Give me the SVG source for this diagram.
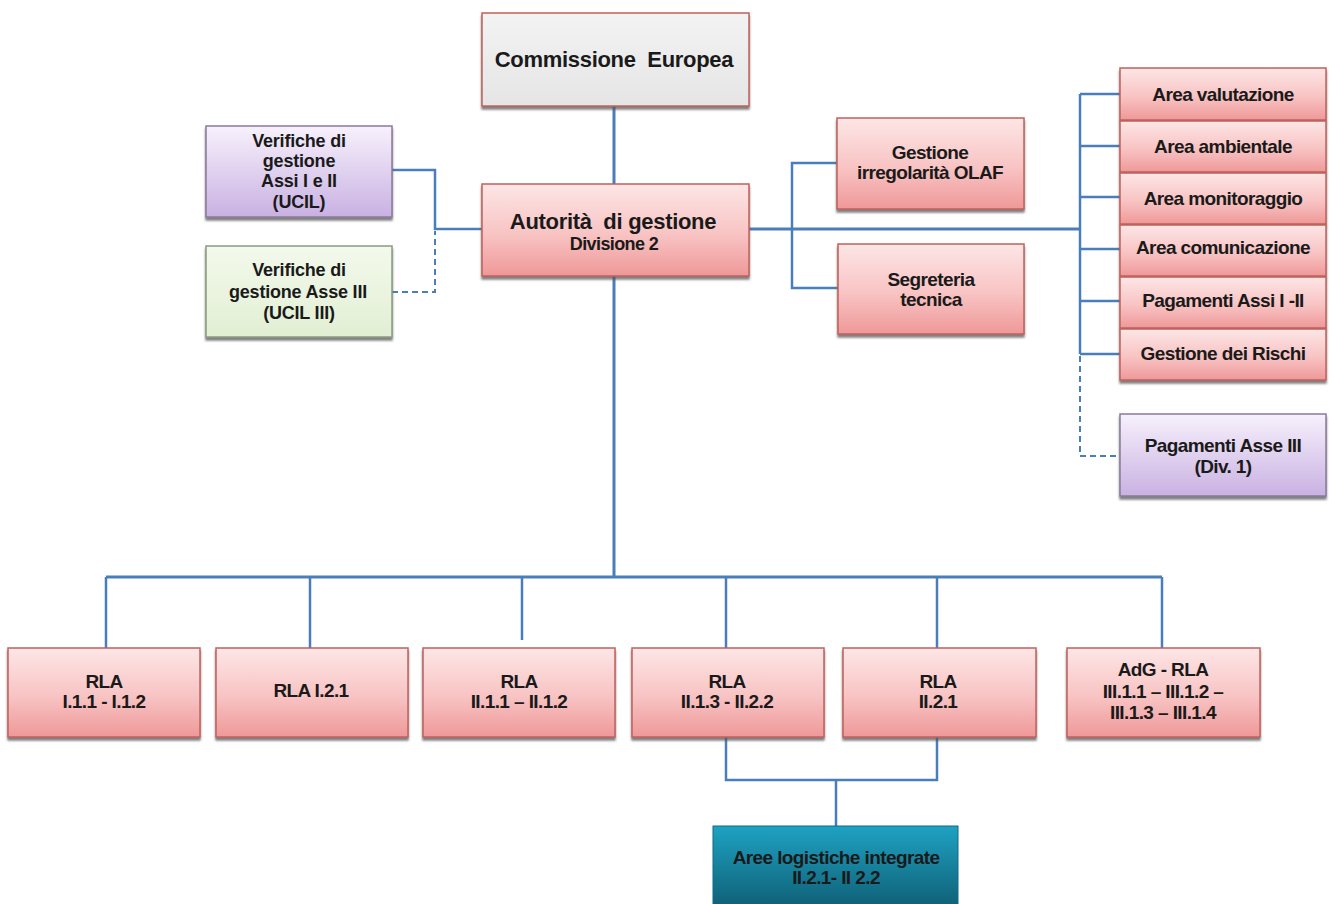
<svg xmlns="http://www.w3.org/2000/svg" width="1329" height="904" viewBox="0 0 1329 904">
<defs>
<linearGradient id="gPink" x1="0" y1="0" x2="0" y2="1"><stop offset="0" stop-color="#fde6e6"/><stop offset="0.55" stop-color="#f8c3c3"/><stop offset="1" stop-color="#ef9898"/></linearGradient>
<linearGradient id="gPurple" x1="0" y1="0" x2="0" y2="1"><stop offset="0" stop-color="#f7f1fc"/><stop offset="1" stop-color="#c9b1e2"/></linearGradient>
<linearGradient id="gGreen" x1="0" y1="0" x2="0" y2="1"><stop offset="0" stop-color="#f3f9ec"/><stop offset="1" stop-color="#e2efd3"/></linearGradient>
<linearGradient id="gGray" x1="0" y1="0" x2="0" y2="1"><stop offset="0" stop-color="#f3f3f3"/><stop offset="1" stop-color="#e5e5e5"/></linearGradient>
<linearGradient id="gTeal" x1="0" y1="0" x2="0" y2="1"><stop offset="0" stop-color="#1ea2c2"/><stop offset="1" stop-color="#0f5f76"/></linearGradient>
<filter id="sh" x="-5%" y="-5%" width="110%" height="120%"><feDropShadow dx="0" dy="3" stdDeviation="1.2" flood-color="#555" flood-opacity="0.75"/></filter>
</defs>
<style>
.box{stroke:#c0605c;stroke-width:1.5;filter:url(#sh)}
.pink{fill:url(#gPink)}
.purple{fill:url(#gPurple);stroke:#8a7a9a}
.green{fill:url(#gGreen);stroke:#8a9a80}
.gray{fill:url(#gGray)}
.teal{fill:url(#gTeal);stroke:#0e6b86}
text{font-family:"Liberation Sans",Arial,sans-serif;font-weight:bold;fill:#1a1a1a;text-anchor:middle;letter-spacing:-0.6px}
.t22{font-size:22px;letter-spacing:-0.3px}
.t18{font-size:18px}
.t19{font-size:19px}
.t20{font-size:18px;letter-spacing:-0.2px}
.conn{fill:none;stroke:#4a7ebb;stroke-width:2.5}
.thick{stroke-width:3}
.dash{stroke-dasharray:6 4;stroke-width:2}
</style>
<rect width="1329" height="904" fill="#ffffff"/>
<g id="connectors">
<path class="conn thick" d="M614 106 V184 M614 276 V577"/>
<path class="conn thick" d="M106 577 H1162"/>
<path class="conn" d="M106 577 V648 M310 577 V648 M522 577 V640 M726 577 V648 M937 577 V648 M1162 577 V648"/>
<path class="conn" d="M726 737 V780 H937 V737 M836 780 V826"/>
<path class="conn" d="M392 170 H435 V229 H482"/>
<path class="conn dash" d="M392 292 H435 V231"/>
<path class="conn thick" d="M749 229 H1080"/>
<path class="conn" d="M837 163 H792 V288 H838"/>
<path class="conn" d="M1080 94 V354 M1080 94 H1120 M1080 146 H1120 M1080 197 H1120 M1080 249 H1120 M1080 301 H1120 M1080 354 H1120"/>
<path class="conn dash" d="M1080 356 V456 H1120"/>
</g>
<g id="commissione"><rect class="box gray" x="482" y="13" width="267" height="93"/><text class="t22" x="614" y="67" xml:space="preserve">Commissione  Europea</text></g>
<g id="autorita"><rect class="box pink" x="482" y="184" width="267" height="92"/><text class="t22" x="613" y="229" xml:space="preserve">Autorità  di gestione</text><text class="t18" x="614" y="250">Divisione 2</text></g>
<g id="ucil"><rect class="box purple" x="206" y="126" width="186" height="91"/><text class="t20" x="299" y="147">Verifiche di</text><text class="t20" x="299" y="167">gestione</text><text class="t20" x="299" y="187">Assi I e II</text><text class="t20" x="299" y="208">(UCIL)</text></g>
<g id="ucil3"><rect class="box green" x="206" y="246" width="186" height="91"/><text class="t20" x="299" y="276">Verifiche di</text><text class="t20" x="298" y="298">gestione Asse III</text><text class="t20" x="299" y="319">(UCIL III)</text></g>
<g id="olaf"><rect class="box pink" x="837" y="118" width="187" height="91"/><text class="t19" x="930" y="159">Gestione</text><text class="t19" x="930" y="179">irregolarità OLAF</text></g>
<g id="segreteria"><rect class="box pink" x="838" y="244" width="186" height="90"/><text class="t19" x="931" y="286">Segreteria</text><text class="t19" x="931" y="306">tecnica</text></g>
<g id="area-valutazione"><rect class="box pink" x="1120" y="68" width="206" height="52"/><text class="t19" x="1223" y="101">Area valutazione</text></g>
<g id="area-ambientale"><rect class="box pink" x="1120" y="121" width="206" height="51"/><text class="t19" x="1223" y="153">Area ambientale</text></g>
<g id="area-monitoraggio"><rect class="box pink" x="1120" y="173" width="206" height="51"/><text class="t19" x="1223" y="205">Area monitoraggio</text></g>
<g id="area-comunicazione"><rect class="box pink" x="1120" y="225" width="206" height="51"/><text class="t19" x="1223" y="254">Area comunicazione</text></g>
<g id="pagamenti-assi"><rect class="box pink" x="1120" y="277" width="206" height="51"/><text class="t19" x="1223" y="307">Pagamenti Assi I -II</text></g>
<g id="rischi"><rect class="box pink" x="1120" y="329" width="206" height="51"/><text class="t19" x="1223" y="360">Gestione dei Rischi</text></g>
<g id="pagamenti-asse3"><rect class="box purple" x="1120" y="414" width="206" height="82"/><text class="t19" x="1223" y="452">Pagamenti Asse III</text><text class="t19" x="1223" y="473">(Div. 1)</text></g>
<g id="rla1"><rect class="box pink" x="8" y="648" width="192" height="89"/><text class="t19" x="104" y="688">RLA</text><text class="t19" x="104" y="708">I.1.1 - I.1.2</text></g>
<g id="rla2"><rect class="box pink" x="216" y="648" width="192" height="89"/><text class="t19" x="311" y="697">RLA I.2.1</text></g>
<g id="rla3"><rect class="box pink" x="423" y="648" width="192" height="89"/><text class="t19" x="519" y="688">RLA</text><text class="t19" x="519" y="708">II.1.1 – II.1.2</text></g>
<g id="rla4"><rect class="box pink" x="632" y="648" width="192" height="89"/><text class="t19" x="727" y="688">RLA</text><text class="t19" x="727" y="708">II.1.3 - II.2.2</text></g>
<g id="rla5"><rect class="box pink" x="843" y="648" width="193" height="89"/><text class="t19" x="938" y="688">RLA</text><text class="t19" x="938" y="708">II.2.1</text></g>
<g id="adg-rla"><rect class="box pink" x="1067" y="648" width="193" height="89"/><text class="t19" x="1163" y="676">AdG - RLA</text><text class="t19" x="1163" y="698">III.1.1 – III.1.2 –</text><text class="t19" x="1163" y="719">III.1.3 – III.1.4</text></g>
<g id="aree-logistiche"><rect class="teal" x="713" y="826" width="245" height="82" stroke-width="1"/><text class="t19" x="836" y="864">Aree logistiche integrate</text><text class="t19" x="836" y="884">II.2.1- II 2.2</text></g>
</svg>
